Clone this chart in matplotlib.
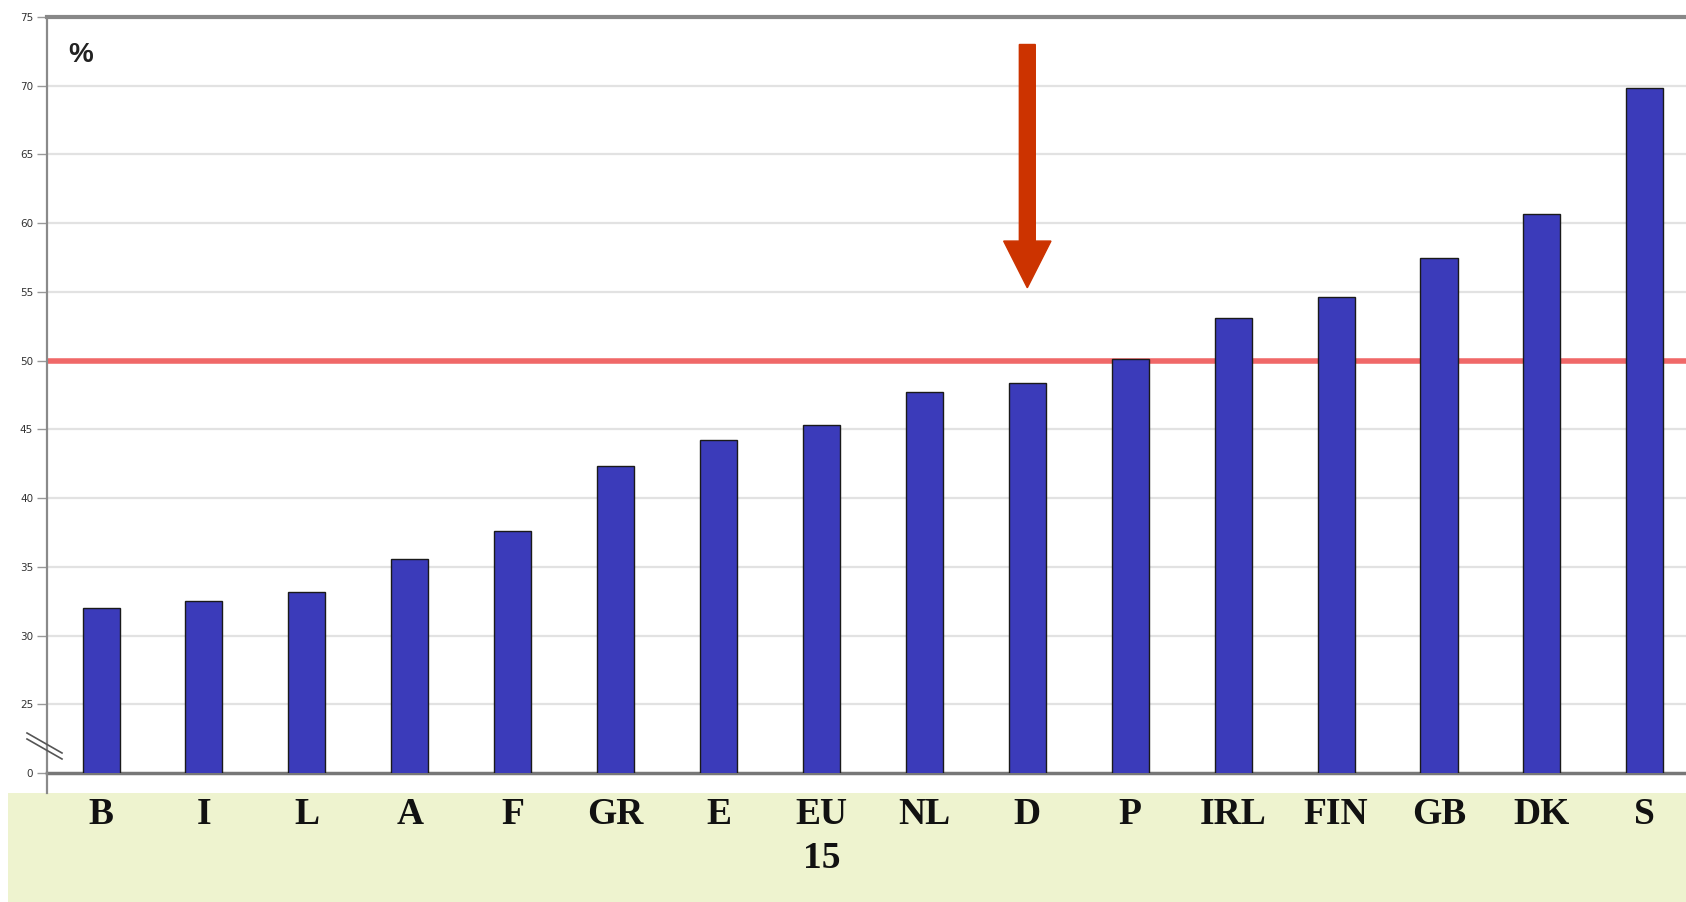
import numpy as np
import matplotlib
matplotlib.use("Agg")
import matplotlib.pyplot as plt
from matplotlib.patches import Rectangle, FancyArrow
from matplotlib.lines import Line2D

# data
countries = ["B", "I", "L", "A", "F", "GR", "E", "EU\n15", "NL", "D",
             "P", "IRL", "FIN", "GB", "DK", "S"]
values = [32.0, 32.5, 33.2, 35.6, 37.6, 42.3, 44.2, 45.3, 47.7, 48.4,
          50.1, 53.1, 54.6, 57.5, 60.7, 69.8]
ytick_vals = [20, 25, 30, 35, 40, 45, 50, 55, 60, 65, 70, 75]
ytick_labels = ["0", "25", "30", "35", "40", "45", "50", "55", "60", "65", "70", "75"]
target = 50
highlight = "D"

fig = plt.figure(figsize=(16.86, 9.02), dpi=100)

# greenish band behind the category labels
fig.patches.append(Rectangle((8 / 1686, 0), 1, 109 / 902, transform=fig.transFigure,
                             facecolor="#eef3cf", edgecolor="none", zorder=-5))

ax = fig.add_axes([47 / 1686, 129 / 902, 1 - 47 / 1686, 756 / 902])
ax.set_facecolor("white")

x = np.arange(len(countries))
ax.bar(x, values, width=0.36, color="#3b3bba", edgecolor="#1a1a1a", linewidth=1.0, zorder=3)

ax.set_xlim(-0.525, 15.4)
ax.set_ylim(20, 75)

# horizontal gridlines
for v in ytick_vals[1:-1]:
    ax.axhline(v, color="#e2e2e2", lw=1.6, zorder=1)
ax.axhline(target, color="#f06868", lw=4, zorder=2)

ax.set_yticks(ytick_vals)
ax.set_yticklabels(ytick_labels, fontsize=7.5, color="#333333", family="DejaVu Sans")
ax.tick_params(axis="y", length=7, width=1, color="#999999", pad=3)

ax.set_xticks(x)
ax.set_xticklabels(countries, family="Liberation Serif", fontweight="bold",
                   fontsize=27, color="#111111", linespacing=1.35)
ax.tick_params(axis="x", length=0, pad=17)

ax.spines["right"].set_visible(False)
ax.spines["top"].set_color("#888888")
ax.spines["top"].set_linewidth(3)
ax.spines["left"].set_color("#8a8a8a")
ax.spines["left"].set_linewidth(1.6)
ax.spines["bottom"].set_color("#777777")
ax.spines["bottom"].set_linewidth(2.5)

# left axis continues down into the label band
fig.lines.append(Line2D([47 / 1686, 47 / 1686], [109 / 902, 129 / 902],
                        transform=fig.transFigure, color="#8a8a8a", lw=1.6))

# axis break marks
for off in [0, 6]:
    fig.lines.append(Line2D([27 / 1686, 62 / 1686],
                            [(902 - 733 - off) / 902, (902 - 753 - off) / 902],
                            transform=fig.transFigure, color="#555555", lw=1.2))

ax.text(0.013, 0.95, "%", transform=ax.transAxes, fontsize=20, color="#222222",
        family="Liberation Sans", fontweight="bold", va="center", ha="left")

# red arrow over the highlighted country
hx = countries.index(highlight)
ax.add_patch(FancyArrow(hx, 73.0, 0, -17.7, width=0.155, head_width=0.46,
                        head_length=3.4, length_includes_head=True,
                        color="#cc3300", zorder=5))

fig.savefig("out.png", dpi=100)
